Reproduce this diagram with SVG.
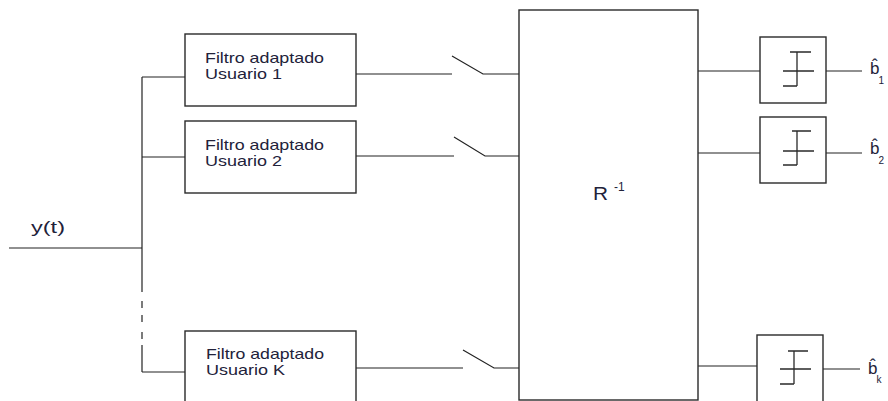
<svg xmlns="http://www.w3.org/2000/svg" width="888" height="401" viewBox="0 0 888 401">
  <style>
    .box { fill: #ffffff; stroke: #2a2a2a; stroke-width: 1.4; }
    .wire { fill: none; stroke: #222222; stroke-width: 1.2; }
    .sym { fill: none; stroke: #2a2a2a; stroke-width: 1.3; }
    .lbl { font-family: "Liberation Sans", "DejaVu Sans", Arial, sans-serif; fill: #22223a; }
    .box-text { font-size: 14.5px; }
  </style>
  <rect width="888" height="401" fill="#ffffff"/>

  <!-- input signal and distribution bus -->
  <g id="connectors">
    <line class="wire" x1="9" y1="248" x2="142" y2="248"/>
    <line class="wire" x1="142" y1="77" x2="142" y2="292"/>
    <line class="wire" x1="142" y1="301" x2="142" y2="308"/>
    <line class="wire" x1="142" y1="315" x2="142" y2="322"/>
    <line class="wire" x1="142" y1="332" x2="142" y2="339"/>
    <line class="wire" x1="142" y1="345" x2="142" y2="372"/>
    <line class="wire" x1="142" y1="77" x2="185" y2="77"/>
    <line class="wire" x1="142" y1="157" x2="185" y2="157"/>
    <line class="wire" x1="142" y1="372" x2="185" y2="372"/>

    <!-- filter outputs with sampling switches -->
    <polyline class="wire" points="356,74 452,74"/>
    <polyline class="wire" points="452,56 483,74 519,74"/>
    <polyline class="wire" points="356,156 454,156"/>
    <polyline class="wire" points="454,137 485,156 519,156"/>
    <polyline class="wire" points="356,368 463,368"/>
    <polyline class="wire" points="463,350 494,368 523,368"/>

    <!-- decorrelator outputs to decision devices -->
    <line class="wire" x1="698" y1="71" x2="760" y2="71"/>
    <line class="wire" x1="826" y1="71" x2="862" y2="71"/>
    <line class="wire" x1="698" y1="153" x2="760" y2="153"/>
    <line class="wire" x1="826" y1="153" x2="862" y2="153"/>
    <line class="wire" x1="698" y1="366" x2="757" y2="366"/>
    <line class="wire" x1="823" y1="369" x2="860" y2="369"/>
  </g>

  <text class="lbl" x="31" y="233" font-size="16" textLength="34" lengthAdjust="spacingAndGlyphs">y(t)</text>

  <g id="filtro1">
    <rect class="box" x="185" y="34" width="171" height="72"/>
    <text class="lbl box-text" x="205" y="63" textLength="119" lengthAdjust="spacingAndGlyphs">Filtro adaptado</text>
    <text class="lbl box-text" x="205" y="78.5" textLength="77" lengthAdjust="spacingAndGlyphs">Usuario 1</text>
  </g>

  <g id="filtro2">
    <rect class="box" x="185" y="121" width="171" height="72"/>
    <text class="lbl box-text" x="205" y="150" textLength="119" lengthAdjust="spacingAndGlyphs">Filtro adaptado</text>
    <text class="lbl box-text" x="205" y="165.5" textLength="77" lengthAdjust="spacingAndGlyphs">Usuario 2</text>
  </g>

  <g id="filtroK">
    <rect class="box" x="185" y="331" width="171" height="80"/>
    <text class="lbl box-text" x="206" y="359" textLength="118" lengthAdjust="spacingAndGlyphs">Filtro adaptado</text>
    <text class="lbl box-text" x="206" y="374.5" textLength="79" lengthAdjust="spacingAndGlyphs">Usuario K</text>
  </g>

  <g id="decorrelador">
    <rect class="box" x="519" y="10" width="179" height="390"/>
    <text class="lbl" x="593" y="200" font-size="18"><tspan textLength="15" lengthAdjust="spacingAndGlyphs">R</tspan><tspan x="614" dy="-9" font-size="12">-1</tspan></text>
  </g>

  <g id="decisor1">
    <rect class="box" x="760" y="37" width="66" height="66"/>
    <path class="sym" d="M790,52 H811 M797,52 V86 M783,71 H814 M783,86 H797"/>
  </g>

  <g id="decisor2">
    <rect class="box" x="760" y="117" width="66" height="66"/>
    <path class="sym" d="M792,131 H811 M797,131 V165 M783,151 H814 M783,165 H797"/>
  </g>

  <g id="decisorK">
    <rect class="box" x="757" y="335" width="66" height="80"/>
    <path class="sym" d="M788,351 H808 M794,351 V384 M780,369 H811 M780,384 H794"/>
  </g>

  <!-- estimated bits -->
  <g id="salida1">
    <text class="lbl" x="870" y="73.5" font-size="17">b&#x302;<tspan font-size="10" dx="-1" dy="10">1</tspan></text>
  </g>
  <g id="salida2">
    <text class="lbl" x="870" y="153.5" font-size="17">b&#x302;<tspan font-size="10" dx="-1" dy="10">2</tspan></text>
  </g>
  <g id="salidaK">
    <text class="lbl" x="868" y="373.5" font-size="17">b&#x302;<tspan font-size="10" dx="-1" dy="9.5">k</tspan></text>
  </g>
</svg>
